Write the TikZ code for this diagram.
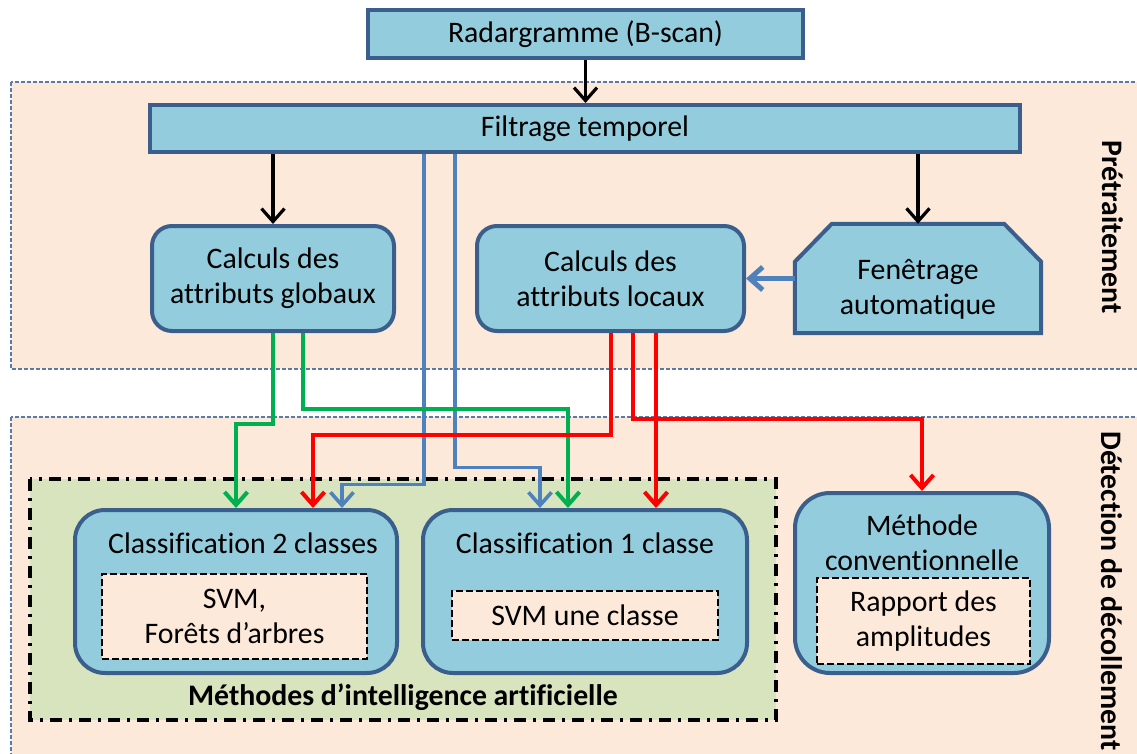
\documentclass[tikz,border=0pt]{standalone}
\usepackage{fontspec}
\setmainfont{Carlito}[Ligatures=NoCommon]
\usetikzlibrary{arrows.meta,calc}

\definecolor{boxfill}{HTML}{93CDDD}
\definecolor{boxline}{HTML}{3A5F8D}
\definecolor{bandfill}{HTML}{FDE9D9}
\definecolor{bandline}{HTML}{5A7BA5}
\definecolor{iafill}{HTML}{D7E4BD}
\definecolor{cblue}{HTML}{4F81BD}
\definecolor{cgreen}{HTML}{00B050}
\definecolor{cred}{HTML}{FF0000}

\begin{document}
\begin{tikzpicture}[x=1pt,y=-1pt,
  every node/.style={font=\fontsize{29.8}{35}\selectfont, align=center, inner sep=0pt},
  band/.style={fill=bandfill, draw=bandline, line width=1.4pt, dash pattern=on 4pt off 2pt},
  flatbox/.style={draw=boxline, fill=boxfill, line width=4pt, rectangle},
  roundbox/.style={draw=boxline, fill=boxfill, line width=4pt, rectangle, rounded corners=#1},
  innerbox/.style={draw=black, fill=bandfill, line width=2.8pt, dash pattern=on 7pt off 3pt, rectangle},
  iabox/.style={draw=black, fill=iafill, line width=3.8pt, dash pattern=on 12pt off 7pt on 3pt off 7pt},
  tip/.style={-{Straight Barb[length=13pt,width=23pt]}},
  karrow/.style={tip, draw=black, line width=3.2pt},
  garrow/.style={tip, draw=cgreen, line width=4pt},
  barrow/.style={tip, draw=cblue, line width=3.6pt},
  rarrow/.style={tip, draw=cred, line width=4pt},
  sidelabel/.style={rotate=-90, font=\fontsize{29.8}{35}\selectfont\bfseries}
]
\useasboundingbox (0,0) rectangle (1137,754);
\fill[white] (0,0) rectangle (1137,754);

% background bands
\draw[band] (11,82) rectangle (1150,369);
\draw[band] (11,417) rectangle (1150,770);
\node[sidelabel] (lpre) at (1113,227) {Prétraitement};
\node[sidelabel] (ldet) at (1112,591) {Détection de décollement};

% group of artificial intelligence methods
\draw[iabox] (30,479) rectangle (776,720);
\node[font=\fontsize{29.8}{35}\selectfont\bfseries] (ialab) at (403,697) {Méthodes d’intelligence artificielle};

% preprocessing blocks
\node[flatbox, minimum width=435pt, minimum height=48pt] (rad) at (585.5,34) {Radargramme (B-scan)};
\node[flatbox, minimum width=870pt, minimum height=47pt] (filt) at (585,128.5) {Filtrage temporel};
\node[roundbox=20pt, minimum width=242pt, minimum height=105pt] (glob) at (273,278.5) {Calculs des\\attributs globaux};
\node[roundbox=20pt, minimum width=267pt, minimum height=105pt] (loc) at (610.5,278.5) {Calculs des\\attributs locaux};
\node[minimum width=246pt, minimum height=109pt] (fen) at (918,278.5) {};
\draw[draw=boxline, fill=boxfill, line width=4pt, line join=miter]
  ($(fen.north west)+(0,38)$) -- ($(fen.north west)+(37,0)$) --
  ($(fen.north east)+(-37,0)$) -- ($(fen.north east)+(0,38)$) --
  (fen.south east) -- (fen.south west) -- cycle;
\node (fentxt) at ($(fen.center)+(0,11)$) {Fenêtrage\\automatique};

% detection blocks
\node[roundbox=30pt, minimum width=322pt, minimum height=163pt] (cl2) at (236,591.5) {};
\node (cl2t) at ($(cl2.north)+(7,35)$) {Classification 2 classes};
\node[innerbox, minimum width=265pt, minimum height=85pt] (svm2) at (234.5,616.5) {SVM,\\Forêts d’arbres};

\node[roundbox=30pt, minimum width=324pt, minimum height=163pt] (cl1) at (585,591.5) {};
\node (cl1t) at ($(cl1.north)+(0,35)$) {Classification 1 classe};
\node[innerbox, minimum width=266pt, minimum height=49pt] (svm1) at (585,615.5) {SVM une classe};

\node[roundbox=35pt, minimum width=254pt, minimum height=180pt] (meth) at (922,583) {};
\node (metht) at ($(meth.north)+(0,52)$) {Méthode\\conventionnelle};
\node[innerbox, minimum width=213pt, minimum height=86pt] (rap) at (923.5,621) {Rapport des\\amplitudes};

% black connectors
\draw[karrow] (rad.south) -- (rad.south |- filt.north);
\draw[karrow] (filt.south -| glob.north) -- (glob.north);
\draw[karrow] (filt.south -| fen.north) -- (fen.north);
\draw[barrow, line width=5pt] (fen.west) -- (fen.west -| loc.east);

% blue connectors from temporal filtering
\draw[barrow] ($(filt.south)+(-161,0)$) -- ++(0,330.5) -| ($(cl2.north)+(106,0)$);
\draw[barrow] ($(filt.south)+(-130,0)$) -- ++(0,313.5) -| ($(cl1.north)+(-45,0)$);

% green connectors from global attributes
\draw[garrow] (glob.south) -- ++(0,91) -| (cl2.north);
\draw[garrow] ($(glob.south)+(30,0)$) -- ++(0,76) -| ($(cl1.north)+(-17,0)$);

% red connectors from local attributes
\draw[rarrow] (loc.south) -- ++(0,102) -| ($(cl2.north)+(77,0)$);
\draw[rarrow] ($(loc.south)+(22.5,0)$) -- ++(0,86) -| (meth.north);
\draw[rarrow] ($(loc.south)+(45.5,0)$) -- ($(cl1.north)+(71,0)$);
\end{tikzpicture}
\end{document}
